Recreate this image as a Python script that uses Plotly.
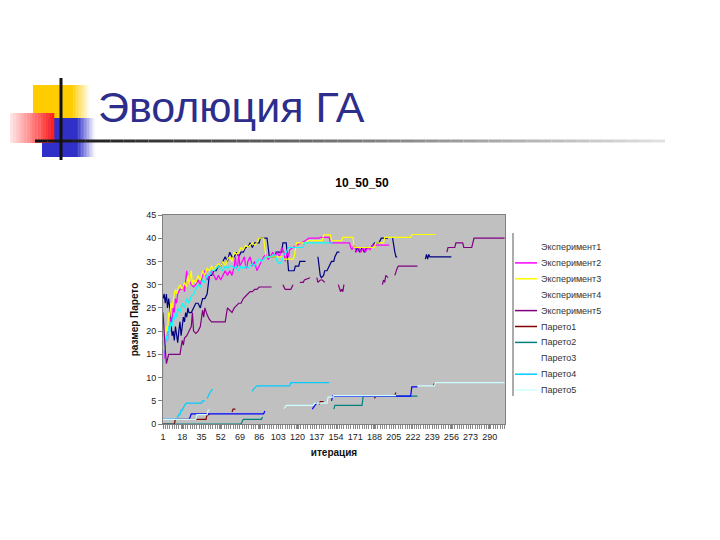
import plotly.graph_objects as go

# ---------------- data ----------------
x_tick_values = [1, 18, 35, 52, 69, 86, 103, 120, 137, 154, 171, 188, 205, 222, 239, 256, 273, 290]
y_tick_values = [0, 5, 10, 15, 20, 25, 30, 35, 40, 45]

series_names = ["Эксперимент1", "Эксперимент2", "Эксперимент3", "Эксперимент4", "Эксперимент5",
                "Парето1", "Парето2", "Парето3", "Парето4", "Парето5"]

# (iteration, pareto size); None = gap (empty cells)
exp1 = [(1, 27), (2, 28), (3, 26), (4, 28), (5, 25), (6, 27), (7, 25), (8, 22), (9, 19), (10, 20), (11, 18),
        (12, 21), (13, 19), (14, 17.5), (15, 20), (16, 22), (17, 19), (18, 21), (19, 23), (20, 22), (21, 24),
        (22, 23), (23, 25), (24, 24), (26, 24), (28, 25), (30, 26), (32, 26), (34, 25), (36, 27), (38, 27),
        (40, 28), (41, 30), (42, 32), (44, 32), (46, 33), (48, 33), (50, 34), (52, 34), (54, 35), (56, 36),
        (58, 35), (60, 37), (62, 36), (64, 36), (66, 37), (68, 36), (70, 37), (72, 37), (74, 38), (76, 38),
        (78, 39), (80, 38), (82, 39), (86, 39), (87, 40), (93, 40), (94, 38), (95, 36), (100, 36), (101, 37),
        (106, 37), (107, 39), (110, 39), (111, 36), (112, 33), (117, 33), (118, 34), (121, 34), (122, 35),
        (127, 35), None,
        (138, 36), (139, 34), (140, 32), (141, 31.5), (143, 32), (144, 33), (146, 33), (148, 34), (150, 35),
        (152, 35), (153, 36), (155, 37), (157, 37), None,
        (171, 37), (173, 38), (175, 37), (177, 38), (179, 37), (181, 38), (185, 38), (188, 39), (192, 39),
        (194, 40), (200, 40), None,
        (204, 40), (205, 38), (206, 37), (207, 36), (208, 36), None,
        (233, 35.5), (234, 36.5), (235, 35.5), (236, 36.5), (237, 36), (256, 36)]

exp2 = [(1, 15), (2, 14), (3, 17), (4, 19), (5, 18), (6, 21), (7, 20), (8, 23), (9, 22), (10, 25), (11, 24),
        (12, 27), (13, 26), (14, 28), (16, 29), (18, 29), (19, 30), (20, 28.5), (21, 31), (22, 33), (23, 30),
        (24, 31), (26, 30), (28, 29.5), (30, 30), (32, 31), (34, 30), (36, 32), (38, 33), (40, 31), (42, 32),
        (44, 33), (46, 32), (48, 31), (50, 32), (52, 31), (54, 32), (56, 33), (58, 32), (60, 33), (62, 32),
        (64, 34), (65, 36), (66, 33.5), (67, 34), (68, 36.5), (69, 34), (71, 35), (73, 36), (74, 34),
        (75, 33.5), (76, 35), (78, 36), (80, 34), (82, 35), (84, 33), (86, 34), (88, 35), (90, 36),
        (92, 36.5), (94, 35.5), (96, 36), (98, 37), (100, 36), (102, 37), (104, 36), (106, 38), (108, 37),
        (109, 35), (110, 36), (111, 37), (112, 36), (113, 37.5), (116, 38), (120, 38.5), (124, 39),
        (127, 39.5), (130, 40), (139, 40), (140, 40.2), (148, 40.2), (149, 39), (166, 39), (167, 38),
        (168, 37.5), (170, 38.5), (172, 37), (174, 38), (176, 37), (178, 38), (180, 37), (182, 38),
        (184, 37.5), (186, 38.5), (201, 38.5)]

exp3 = [(1, 17), (2, 16), (3, 19), (4, 21), (5, 20), (6, 24), (7, 23), (8, 26), (9, 25), (10, 27), (11, 28),
        (12, 29), (13, 28), (14, 29), (16, 30), (18, 29), (20, 30.5), (22, 29.5), (23, 32), (24, 30), (26, 33),
        (27, 30), (28, 31), (30, 30.5), (32, 32), (34, 31), (36, 33), (38, 32), (40, 33.5), (42, 33), (44, 34),
        (46, 33), (48, 34), (50, 34.5), (52, 34), (54, 35), (56, 34), (58, 35.5), (60, 36), (62, 35), (64, 37),
        (66, 36.5), (68, 37), (70, 38), (72, 37.5), (74, 38.5), (76, 38), (78, 38.5), (80, 39), (82, 38.5),
        (84, 39), (86, 40), (90, 40), (91, 38), (92, 36), (107, 36), (108, 35.5), (116, 35.5), (117, 36),
        (118, 37.5), (119, 39), (128, 39), (129, 39.5), (142, 39.5), (143, 40.7), (149, 40.7), (150, 39.5),
        (159, 39.5), (160, 40.2), (169, 40.2), (170, 38), (188, 38), (189, 39), (196, 39), (197, 40.2),
        (220, 40.2), (221, 40.8), (242, 40.8)]

exp4 = [(1, 10), (2, 18), (3, 17), (4, 19), (5, 18), (6, 21), (7, 20), (8, 22), (9, 21), (10, 23), (11, 22.5),
        (12, 24), (13, 23), (14, 25), (16, 24), (18, 26), (20, 25), (22, 27), (24, 26), (26, 27.5), (28, 28),
        (30, 29), (32, 30), (34, 29.5), (36, 31), (38, 30.5), (40, 32), (42, 32), (44, 33), (46, 33),
        (48, 33.5), (50, 34), (52, 33.5), (54, 33), (56, 34), (58, 33.5), (60, 34), (62, 34), (64, 33.5),
        (66, 34), (68, 33), (70, 34), (72, 33.5), (74, 34), (76, 33.5), (78, 34), (80, 34.5), (82, 34),
        (84, 35), (86, 35.5), (88, 35), (90, 35.5), (92, 36), (96, 36), (100, 36.5), (102, 35), (104, 34.5),
        (106, 35), (108, 36.5), (110, 37), (112, 38), (125, 38), (126, 39), (151, 39)]

exp5 = [(1, 24), (2, 19), (3, 16), (4, 13), (5, 14), (6, 15), (16, 15), (17, 16.5), (18, 18), (19, 17),
        (20, 18.5), (22, 19), (24, 20), (26, 21), (27, 24), (28, 20), (30, 19.5), (32, 20), (34, 21), (35, 23),
        (36, 24.5), (37, 23), (38, 25), (40, 23.5), (42, 22.5), (44, 22), (56, 22), (57, 23.5), (58, 25),
        (60, 24.5), (62, 24), (64, 25), (66, 25.5), (68, 26), (70, 26), (72, 27), (74, 27.5), (76, 28),
        (78, 28.5), (80, 28.5), (82, 29), (84, 29), (86, 29.5), (97, 29.5), None,
        (107, 30), (108, 29.5), (109, 29), (114, 29), (115, 29.5), (116, 30), None,
        (122, 30.5), (125, 30.5), (126, 31), (131, 31.5), None,
        (137, 31.5), (138, 30.5), (140, 31), (142, 31), (144, 30.5), None,
        (156, 30), (157, 29), (158, 28.5), (159, 29), (160, 28.5), (161, 30), None,
        (195, 30), (196, 31), (197, 30.5), (198, 32), (200, 31.5), None,
        (206, 32), (207, 33), (208, 33.5), (209, 34), (226, 34), None,
        (252, 37), (253, 38), (259, 38), (260, 39), (266, 39), (267, 38), (274, 38), (275, 39), (276, 40),
        (303, 40)]

pareto1 = [(1, 0), (11, 0), (12, 1), (39, 1), (40, 2), (42, 2), None,
           (62, 2.6), (63, 3.2), (65, 3.2), None,
           (139, 4.2), (140, 4.8), (143, 4.8), None,
           (188, 5.5), (189, 6), (191, 6), None,
           (206, 6.3), (207, 6.8), None,
           (240, 8.2), (241, 8.7)]

pareto2 = [(1, 0), (70, 0), (72, 1), (88, 1), (89, 1.5), None,
           (152, 3.2), (153, 4), (177, 4), (178, 6), (226, 6)]

pareto3 = [(1, 1), (24, 1), (25, 1.5), (26, 2.2), (90, 2.2), (91, 2.8), None,
           (133, 3.2), (135, 4), (137, 4.6), None,
           (150, 5), (151, 6), (220, 6), (221, 8), (226, 8)]

pareto4 = [(1, 1), (13, 1), (14, 1.5), (15, 2), (16, 2), (17, 3), (18, 3), (19, 3.5), (20, 4), (22, 4.5),
           (35, 4.5), (36, 5), (38, 5), None,
           (40, 5.5), (41, 6), (43, 7), (45, 7.5), None,
           (80, 7), (81, 7.5), (83, 8), (84, 8.2), (113, 8.2), (114, 8.9), (148, 8.9)]

pareto5 = [(1, 1), (30, 1), (31, 2), (40, 2), (41, 3), (42, 3), None,
           (108, 3.3), (110, 4), (134, 4), (135, 4.5), (146, 4.5), (147, 5.8), (151, 5.8), (152, 6.1),
           (207, 6.1), None,
           (226, 8.2), (241, 8.2), (242, 8.9), (303, 8.9)]

all_series = [exp1, exp2, exp3, exp4, exp5, pareto1, pareto2, pareto3, pareto4, pareto5]

# ---------------- styles ----------------
colors = ["#000080", "#FF00FF", "#FFFF00", "#00FFFF", "#800080",
          "#800000", "#008080", "#0000FF", "#00CCFF", "#CCFFFF"]
legend_has_key = [False, True, True, False, True, True, True, False, True, True]
FONT = "Liberation Sans, Arial, sans-serif"

# plot-area pixel box (for decorations outside the axes)
L, R, T, B = 163, 505, 215, 424


def PX(x):
    return (x - L) / (R - L)


def PY(y):
    return (B - y) / (B - T)


def split(points):
    xs, ys = [], []
    for p in points:
        if p is None:
            xs.append(None)
            ys.append(None)
        else:
            xs.append(p[0])
            ys.append(p[1])
    return xs, ys


fig = go.Figure()
for name, pts, col in zip(series_names, all_series, colors):
    xs, ys = split(pts)
    fig.add_trace(go.Scatter(x=xs, y=ys, mode="lines", name=name,
                             line=dict(color=col, width=1.2), connectgaps=False,
                             showlegend=False))


def hexrgb(h):
    h = h.lstrip("#")
    return tuple(int(h[i:i + 2], 16) for i in (0, 2, 4))


def mix(c1, c2, t):
    a, b = hexrgb(c1), hexrgb(c2)
    return "rgb(%d,%d,%d)" % tuple(round(a[i] + (b[i] - a[i]) * t) for i in range(3))


shapes = []


def rect(x0, y0, x1, y1, color):
    shapes.append(dict(type="rect", xref="paper", yref="paper",
                       x0=PX(x0), x1=PX(x1), y0=PY(y1), y1=PY(y0),
                       fillcolor=color, line=dict(width=0), layer="above"))


def hgrad(x0, x1, y0, y1, c0, c1, n):
    w = (x1 - x0) / n
    for i in range(n):
        rect(x0 + i * w, y0, x0 + (i + 1) * w + 0.3, y1, mix(c0, c1, (i + 0.5) / n))


# slide decorations
rect(33, 85, 72, 118, "#FFCC00")
hgrad(72, 90, 85, 118, "#FFCC00", "#FFFFFF", 12)
rect(42, 118, 77, 157, "#3030C8")
hgrad(77, 95, 118, 157, "#3030C8", "#FFFFFF", 12)
hgrad(10, 54, 113, 143, "#FFEAEA", "#FF1A1A", 16)
# horizontal rule fading to the right
n = 50
for i in range(n):
    xa = 35 + (665 - 35) * i / n
    xb = 35 + (665 - 35) * (i + 1) / n
    shapes.append(dict(type="line", xref="paper", yref="paper",
                       x0=PX(xa), x1=PX(xb), y0=PY(141), y1=PY(141),
                       line=dict(color=mix("#111111", "#E4E4E4", i / n), width=3), layer="above"))
shapes.append(dict(type="line", xref="paper", yref="paper", x0=PX(61), x1=PX(61),
                   y0=PY(78), y1=PY(160), line=dict(color="#111111", width=3), layer="above"))

# legend (manual, to get Excel's compact spacing)
shapes.append(dict(type="line", xref="paper", yref="paper", x0=PX(513), x1=PX(513),
                   y0=PY(233), y1=PY(396), line=dict(color="#909090", width=1.5)))
annotations = []
for k, (name, col, has_key) in enumerate(zip(series_names, colors, legend_has_key)):
    yy = 247 + k * 15.9
    if has_key:
        shapes.append(dict(type="line", xref="paper", yref="paper", x0=PX(515), x1=PX(537),
                           y0=PY(yy), y1=PY(yy), line=dict(color=col, width=1.5)))
    annotations.append(dict(xref="paper", yref="paper", x=PX(539), y=PY(yy), text=name,
                            showarrow=False, xanchor="left", yanchor="middle",
                            font=dict(family=FONT, size=9, color="#333333")))

# slide title
annotations.append(dict(xref="paper", yref="paper", x=PX(96), y=PY(107), text="Эволюция ГА",
                        showarrow=False, xanchor="left", yanchor="middle",
                        font=dict(family=FONT, size=43, color="#2D2D8C")))

fig.update_layout(
    width=720, height=540,
    margin=dict(l=L, r=720 - R, t=T, b=540 - B, autoexpand=False),
    paper_bgcolor="white", plot_bgcolor="#C0C0C0",
    showlegend=False,
    font=dict(family=FONT, color="#222222"),
    title=dict(text="<b>10_50_50</b>", x=362 / 720, xanchor="center", y=1 - 183 / 540, yanchor="middle",
               font=dict(family=FONT, size=12, color="black")),
    xaxis=dict(range=[1, 303.4], tickmode="array", tickvals=x_tick_values,
               ticktext=[str(v) for v in x_tick_values],
               ticks="outside", ticklen=4, tickcolor="#808080", tickwidth=1,
               minor=dict(ticks="outside", ticklen=4, tick0=1, dtick=2, tickcolor="#8a8a8a",
                          tickwidth=1, showgrid=False),
               showgrid=False, zeroline=False, showline=True, linecolor="#808080", linewidth=1,
               mirror=True, tickfont=dict(family=FONT, size=9, color="#222222"),
               title=dict(text="<b>итерация</b>", font=dict(family=FONT, size=10, color="#111111"),
                          standoff=8)),
    yaxis=dict(range=[0, 45], tickmode="array", tickvals=y_tick_values,
               ticks="outside", ticklen=4, tickcolor="#808080",
               showgrid=False, zeroline=False, showline=True, linecolor="#808080", linewidth=1,
               mirror=True, tickfont=dict(family=FONT, size=9, color="#222222"),
               title=dict(text="<b>размер Парето</b>", font=dict(family=FONT, size=10, color="#111111"),
                          standoff=5)),
    shapes=shapes,
    annotations=annotations,
)

fig.write_html("out.html", config={"displayModeBar": False},
               post_script="document.body.style.margin='0';")
